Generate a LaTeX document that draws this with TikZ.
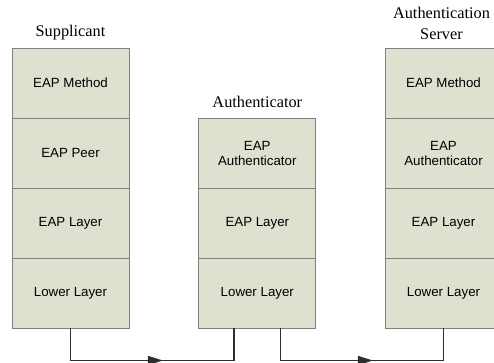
\documentclass[tikz,border=0pt]{standalone}
\usepackage{fontspec}
\setmainfont{Liberation Serif}
\setsansfont{Liberation Sans}
\usetikzlibrary{positioning, arrows.meta, decorations.markings}
\definecolor{stackfill}{HTML}{DFE0D0}
\definecolor{stackline}{HTML}{808080}
\definecolor{linkgray}{HTML}{2E2E2E}

\tikzset{
  layer/.style={
    draw=stackline, line width=0.8pt, fill=stackfill,
    minimum width=117pt, minimum height=70pt, inner sep=0pt, outer sep=0pt,
    align=center, font=\sffamily\fontsize{13.3}{15}\selectfont
  },
  title/.style={font=\fontsize{16.3}{21}\selectfont, align=center, anchor=base, inner sep=0pt},
  link/.style={
    draw=linkgray, line width=1.2pt, postaction={decorate},
    decoration={markings, mark=at position #1 with {\arrow{Triangle[length=15pt,width=9pt]}}}
  }
}

\begin{document}
\begin{tikzpicture}[x=1pt, y=-1pt]
  \useasboundingbox (0,0) rectangle (494,363);

  % supplicant stack
  \node[title] (sup-title) at (70.5,36.7) {Supplicant};
  \node[layer] (sup-method) at (70.5,83) {EAP Method};
  \node[layer, below=0pt of sup-method] (sup-peer) {EAP Peer};
  \node[layer, below=0pt of sup-peer] (sup-eap) {EAP Layer};
  \node[layer, below=0pt of sup-eap] (sup-low) {Lower Layer};

  % authenticator stack
  \node[title] (auth-title) at (257.3,107.3) {Authenticator};
  \node[layer] (auth-auth) at (257.3,153) {EAP\\Authenticator};
  \node[layer, below=0pt of auth-auth] (auth-eap) {EAP Layer};
  \node[layer, below=0pt of auth-eap] (auth-low) {Lower Layer};

  % server stack
  \node[title] (srv-title) at (441.5,39.3) {Authentication\\Server};
  \node[layer] (srv-method) at (443.5,83) {EAP Method};
  \node[layer, below=0pt of srv-method] (srv-auth) {EAP\\Authenticator};
  \node[layer, below=0pt of srv-auth] (srv-eap) {EAP Layer};
  \node[layer, below=0pt of srv-eap] (srv-low) {Lower Layer};

  % links
  \path[link=0.547] (sup-low.south) -- ++(0,32.5) -| ([xshift=-23.3pt]auth-low.south);
  \path[link=0.548] ([xshift=23.3pt]auth-low.south) -- ++(0,32.5) -| (srv-low.south);
\end{tikzpicture}
\end{document}
